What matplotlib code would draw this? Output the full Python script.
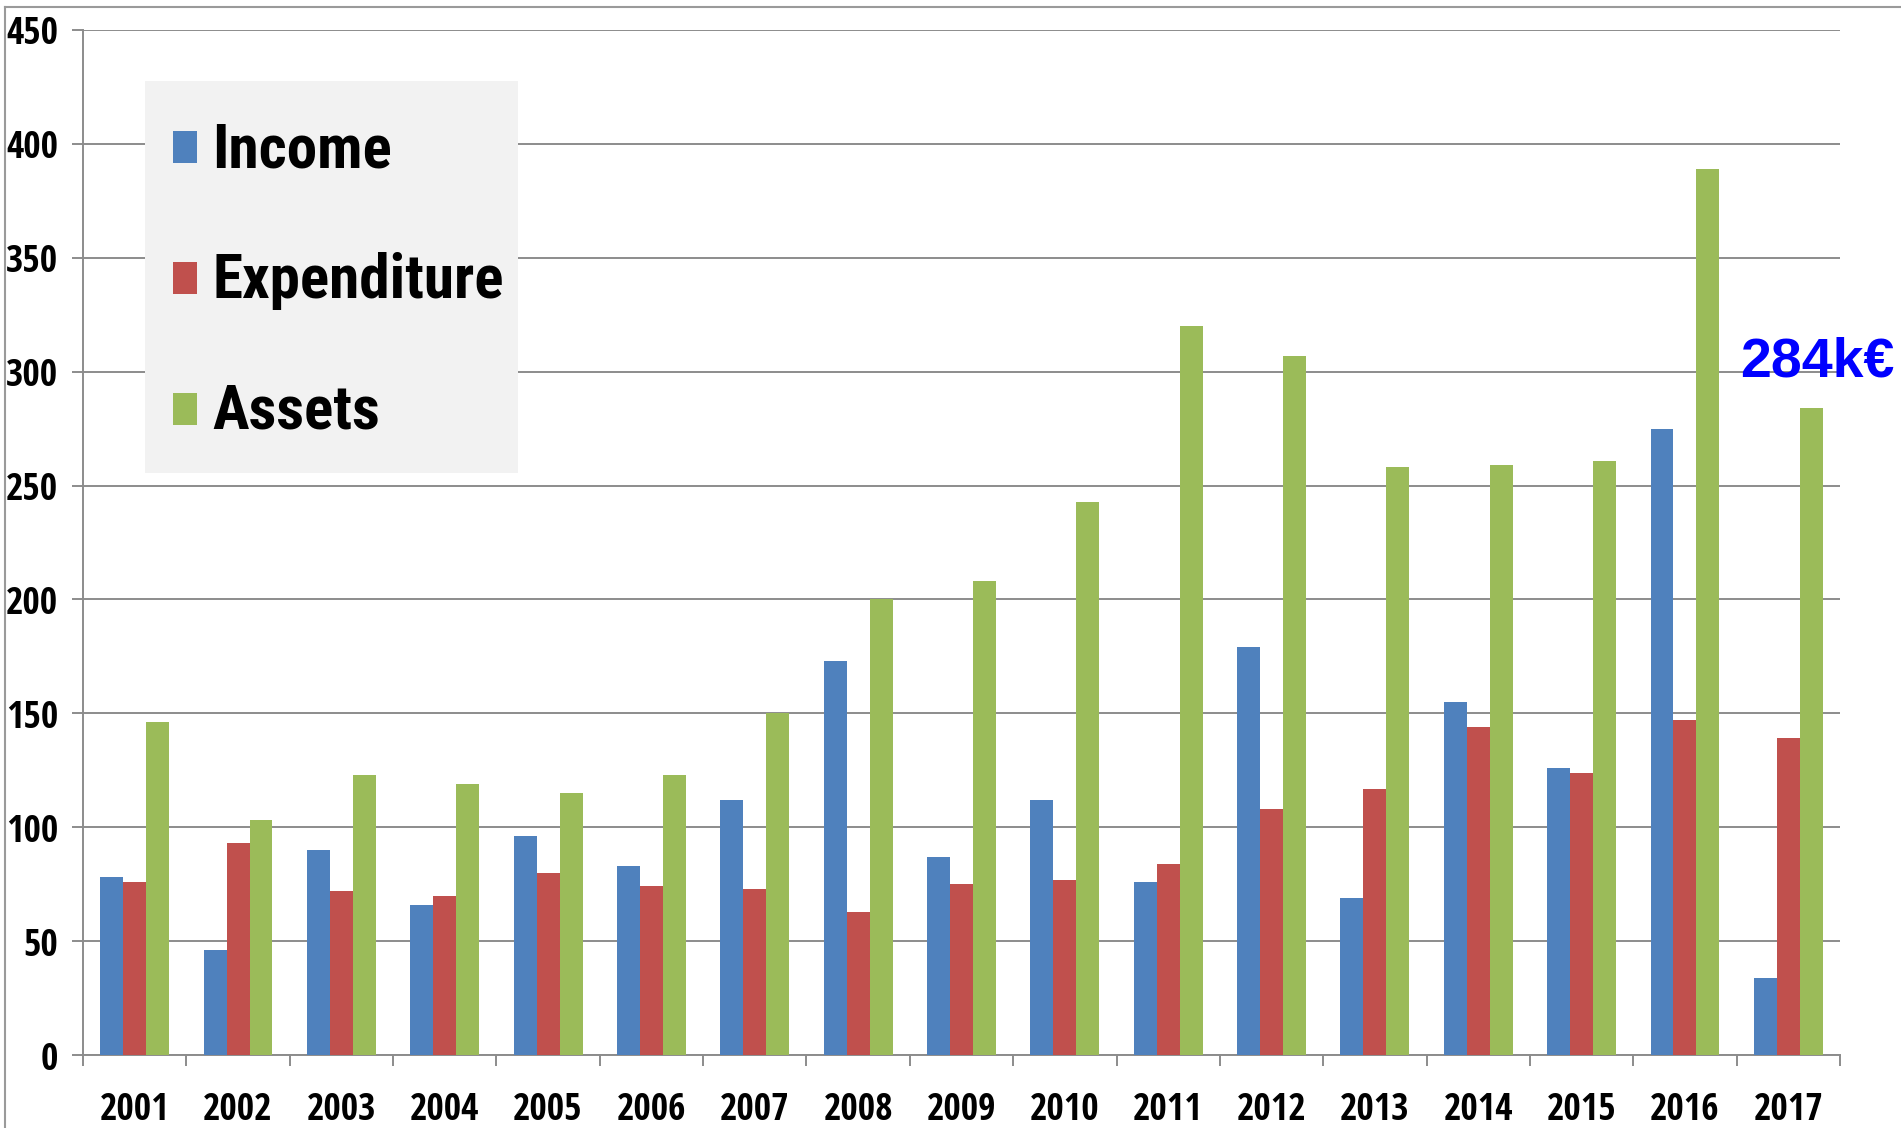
import matplotlib
matplotlib.use("Agg")
import matplotlib.pyplot as plt
from matplotlib.patches import Rectangle
from matplotlib.lines import Line2D
import numpy as np

# ---- data (k€) ----
years = [str(y) for y in range(2001, 2018)]
income = [78, 46, 90, 66, 96, 83, 112, 173, 87, 112, 76, 179, 69, 155, 126, 275, 34]
expenditure = [76, 93, 72, 70, 80, 74, 73, 63, 75, 77, 84, 108, 117, 144, 124, 147, 139]
assets = [146, 103, 123, 119, 115, 123, 150, 200, 208, 243, 320, 307, 258, 259, 261, 389, 284]
series_names = ["Income", "Expenditure", "Assets"]
series_colors = ["#4F81BD", "#C0504D", "#9BBB59"]
y_ticks = [0, 50, 100, 150, 200, 250, 300, 350, 400, 450]

TICK_FONT = ["Open Sans Condensed", "Roboto Condensed", "DejaVu Sans"]
LEGEND_FONT = ["Roboto Condensed", "PT Sans Narrow", "DejaVu Sans"]
CALLOUT_FONT = ["Liberation Sans", "DejaVu Sans"]
GRID = "#8C8C8C"

W, H = 1901, 1128
fig = plt.figure(figsize=(W / 100, H / 100), dpi=100)


def fx(px):
    return px / W


def fy(py):
    return 1 - py / H


ax = fig.add_axes([fx(83), fy(1055), fx(1840 - 83), (1055 - 30) / H])

x = np.arange(len(years))
bw = 0.222
for i, (vals, name, col) in enumerate(zip([income, expenditure, assets], series_names, series_colors)):
    ax.bar(x + (i - 1) * bw, vals, width=bw, color=col, label=name, zorder=3,
           edgecolor="none")

ax.set_xlim(-0.5, len(years) - 0.5)
ax.set_ylim(0, 450)
ax.set_yticks(y_ticks)
ax.set_yticklabels([str(v) for v in y_ticks], fontfamily=TICK_FONT, fontweight="bold", fontsize=27)
ax.yaxis.grid(True, color=GRID, linewidth=1.4, zorder=0)
ax.set_axisbelow(True)

# category labels centred, tick marks on category boundaries
ax.set_xticks(x)
ax.set_xticklabels(years, fontfamily=TICK_FONT, fontweight="bold", fontsize=27)
ax.tick_params(axis="x", length=0, pad=26)
ax.set_xticks(np.arange(len(years) + 1) - 0.5, minor=True)
ax.tick_params(axis="x", which="minor", length=8, width=1.4, color=GRID)
ax.tick_params(axis="y", length=8, width=1.4, color=GRID, pad=10)

for s in ["top", "right"]:
    ax.spines[s].set_visible(False)
for s in ["left", "bottom"]:
    ax.spines[s].set_color(GRID)
    ax.spines[s].set_linewidth(1.4)

# value callout on the latest assets bar
ax.annotate(f"{assets[-1]}k€", xy=(x[-1] + bw, assets[-1]), xytext=(4, 14),
            textcoords="offset points", ha="center", va="bottom",
            fontfamily=CALLOUT_FONT, fontweight="bold", fontsize=40, color="#0000FF",
            annotation_clip=False)

# legend panel
fig.patches.append(Rectangle((fx(145), fy(473)), fx(518 - 145), (473 - 81) / H,
                             transform=fig.transFigure, facecolor="#F2F2F2",
                             edgecolor="none", zorder=5))
baselines = [167, 298, 429]
for name, col, base in zip(series_names, series_colors, baselines):
    top = base - 36
    fig.patches.append(Rectangle((fx(173), fy(top + 32)), fx(24), 32 / H,
                                 transform=fig.transFigure, facecolor=col,
                                 edgecolor="none", zorder=6))
    fig.text(fx(212), fy(base), name, fontfamily=LEGEND_FONT, fontweight="bold",
             fontsize=44, va="baseline", ha="left", zorder=7)

# outer chart frame
fig.lines.append(Line2D([fx(5), 1], [fy(7), fy(7)], transform=fig.transFigure,
                        color="#9A9A9A", linewidth=1.5))
fig.lines.append(Line2D([fx(5), fx(5)], [0, fy(7)], transform=fig.transFigure,
                        color="#9A9A9A", linewidth=1.5))

fig.savefig("out.png", dpi=100, facecolor="white")
